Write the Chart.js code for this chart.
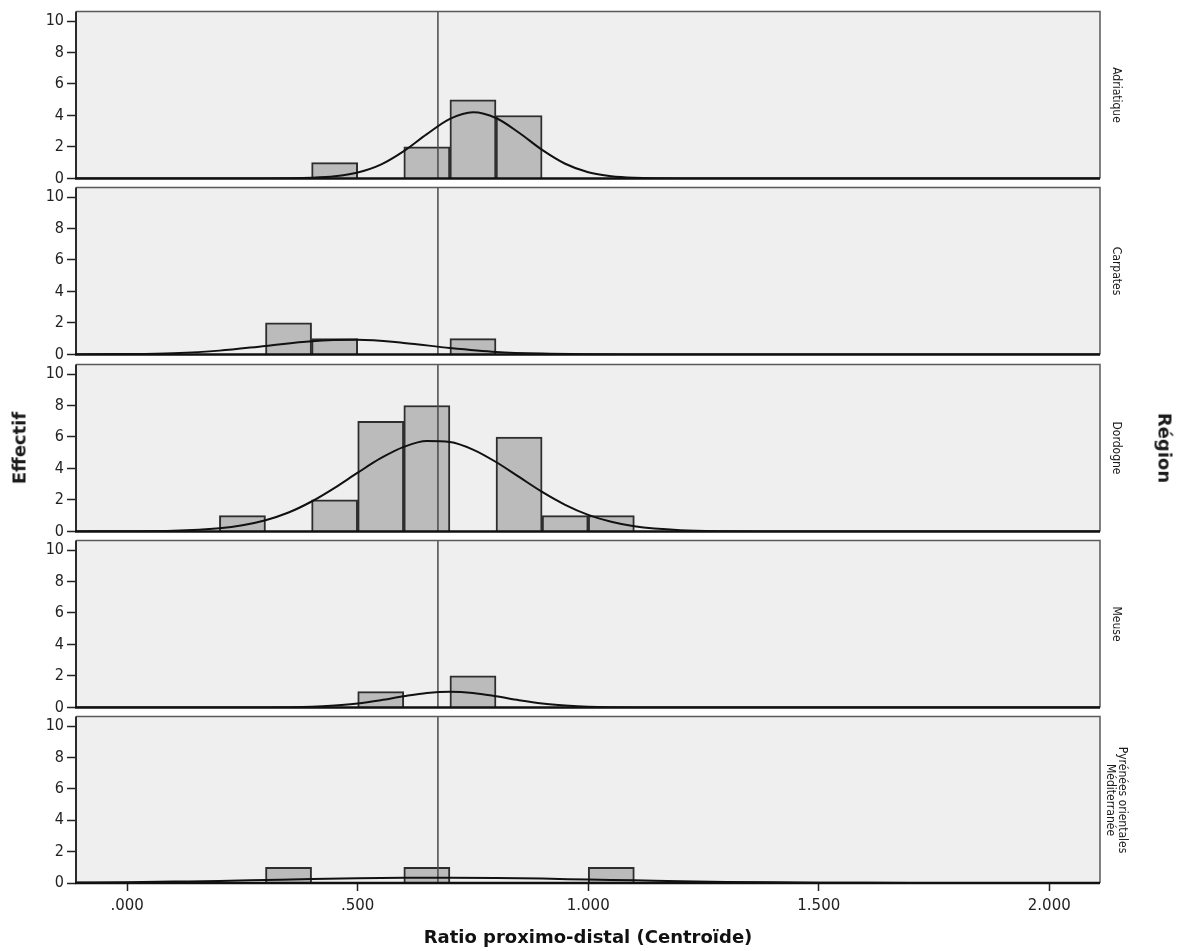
<!DOCTYPE html>
<html>
<head>
<meta charset="utf-8">
<script src="https://cdn.jsdelivr.net/npm/chart.js@4.4.0/dist/chart.umd.min.js"></script>
<style>
    body { margin: 0; background: #fff; }
    #wrap { position: relative; width: 1182px; height: 951px; overflow: hidden; background: #fff; }
    #wrap canvas { position: absolute; left: 0; }
    .rot {
        position: absolute;
        white-space: nowrap;
        text-align: center;
        color: #1a1a1a;
    }
    .strip {
        font-family: "DejaVu Sans Condensed", "Liberation Sans Narrow", "DejaVu Sans", sans-serif;
        font-stretch: condensed;
        font-size: 12px;
        line-height: 12px;
        transform: translate(-50%, -50%) rotate(90deg);
    }
    .axis-title {
        font-family: "DejaVu Sans", sans-serif;
        font-weight: bold;
        font-size: 18px;
    }
</style>
</head>
<body>
<div id="wrap">
    <canvas id="p0" width="1182" height="192"></canvas>
    <canvas id="p1" width="1182" height="192"></canvas>
    <canvas id="p2" width="1182" height="192"></canvas>
    <canvas id="p3" width="1182" height="192"></canvas>
    <canvas id="p4" width="1182" height="247"></canvas>

    <div class="rot axis-title" style="left:19px; top:448px; transform: translate(-50%, -50%) rotate(-90deg);">Effectif</div>
    <div class="rot axis-title" style="left:1165px; top:448px; transform: translate(-50%, -50%) rotate(90deg);">Région</div>
</div>

<script>
// ============================================
// Data
// ============================================

const X_MIN = -0.111;
const X_MAX = 2.11;
const Y_MAX = 10.6;
const REF_LINE_X = 0.674;

const X_TICKS = [0, 0.5, 1, 1.5, 2];
const X_TICK_LABELS = [".000", ".500", "1.000", "1.500", "2.000"];
const Y_TICKS = [0, 2, 4, 6, 8, 10];

const REGIONS = ["Adriatique", "Carpates", "Dordogne", "Meuse", "Pyrénées orientales\nMéditerranée"];

// histogram bins (width 0.1), given by their centres
const BIN_CENTERS = [0.25, 0.35, 0.45, 0.55, 0.65, 0.75, 0.85, 0.95, 1.05];

const COUNTS_ADRIATIQUE = [0, 0, 1, 0, 2, 5, 4, 0, 0];
const COUNTS_CARPATES   = [0, 2, 1, 0, 0, 1, 0, 0, 0];
const COUNTS_DORDOGNE   = [1, 0, 2, 7, 8, 0, 6, 1, 1];
const COUNTS_MEUSE      = [0, 0, 0, 1, 0, 2, 0, 0, 0];
const COUNTS_PYRENEES   = [0, 1, 0, 0, 1, 0, 0, 0, 1];

// normal curves, points
const CURVE_X_ADRIATIQUE = [-0.111, 0.30, 0.40, 0.45, 0.50, 0.55, 0.60, 0.65, 0.70, 0.75, 0.80, 0.85, 0.90, 0.95, 1.00, 1.05, 1.10, 1.20, 2.11];
const CURVE_Y_ADRIATIQUE = [0, 0, 0.04, 0.13, 0.37, 0.87, 1.73, 2.81, 3.78, 4.20, 3.84, 2.90, 1.81, 0.93, 0.39, 0.14, 0.04, 0, 0];

const CURVE_X_CARPATES = [-0.111, 0.0, 0.1, 0.2, 0.3, 0.4, 0.5, 0.6, 0.7, 0.8, 0.9, 1.0, 1.1, 2.11];
const CURVE_Y_CARPATES = [0, 0.02, 0.08, 0.24, 0.54, 0.84, 0.93, 0.73, 0.41, 0.16, 0.05, 0.01, 0, 0];

const CURVE_X_DORDOGNE = [-0.111, 0.0, 0.1, 0.2, 0.25, 0.3, 0.35, 0.4, 0.45, 0.5, 0.55, 0.6, 0.65, 0.7, 0.75, 0.8, 0.85, 0.9, 0.95, 1.0, 1.05, 1.1, 1.2, 1.3, 1.4, 2.11];
const CURVE_Y_DORDOGNE = [0, 0.01, 0.04, 0.20, 0.39, 0.71, 1.20, 1.90, 2.77, 3.73, 4.65, 5.37, 5.74, 5.68, 5.20, 4.41, 3.46, 2.51, 1.69, 1.05, 0.61, 0.32, 0.07, 0.01, 0, 0];

const CURVE_X_MEUSE = [-0.111, 0.3, 0.4, 0.45, 0.5, 0.55, 0.6, 0.65, 0.7, 0.75, 0.8, 0.85, 0.9, 0.95, 1.0, 1.1, 1.2, 2.11];
const CURVE_Y_MEUSE = [0, 0, 0.04, 0.12, 0.25, 0.46, 0.71, 0.92, 1.0, 0.92, 0.71, 0.46, 0.25, 0.12, 0.04, 0, 0, 0];

const CURVE_X_PYRENEES = [-0.111, 0.0, 0.1, 0.2, 0.3, 0.4, 0.5, 0.6, 0.7, 0.8, 0.9, 1.0, 1.1, 1.2, 1.3, 1.4, 1.5, 1.6, 1.7, 1.8, 2.0, 2.11];
const CURVE_Y_PYRENEES = [0.025, 0.05, 0.09, 0.13, 0.19, 0.25, 0.30, 0.33, 0.34, 0.32, 0.28, 0.22, 0.17, 0.11, 0.07, 0.04, 0.02, 0.01, 0.005, 0.002, 0, 0];

const PANELS = [
    { counts: COUNTS_ADRIATIQUE, cx: CURVE_X_ADRIATIQUE, cy: CURVE_Y_ADRIATIQUE },
    { counts: COUNTS_CARPATES,   cx: CURVE_X_CARPATES,   cy: CURVE_Y_CARPATES },
    { counts: COUNTS_DORDOGNE,   cx: CURVE_X_DORDOGNE,   cy: CURVE_Y_DORDOGNE },
    { counts: COUNTS_MEUSE,      cx: CURVE_X_MEUSE,      cy: CURVE_Y_MEUSE },
    { counts: COUNTS_PYRENEES,   cx: CURVE_X_PYRENEES,   cy: CURVE_Y_PYRENEES },
];

// ============================================
// Layout
// ============================================

const PANEL_TOPS = [11, 187, 364, 540, 716];
const PANEL_H = 168;
const PAD = 12;
const AREA_LEFT = 76;
const AREA_RIGHT = 1100;
const CANVAS_W = 1182;

const FONT_TICK_Y = "'DejaVu Sans Condensed', 'Liberation Sans Narrow', 'DejaVu Sans', sans-serif";
const FONT_TICK_X = "'DejaVu Sans', sans-serif";

// panel background + frame
const panelFrame = {
    id: "panelFrame",
    beforeDraw(chart) {
        const { ctx, chartArea: a } = chart;
        ctx.save();
        ctx.fillStyle = "#efefef";
        ctx.fillRect(a.left, a.top, a.right - a.left, a.bottom - a.top);
        ctx.restore();
    },
    afterDraw(chart) {
        const { ctx, chartArea: a } = chart;
        ctx.save();
        ctx.strokeStyle = "#5a5a5a";
        ctx.lineWidth = 1.5;
        ctx.beginPath();
        ctx.moveTo(a.left, a.top);
        ctx.lineTo(a.right, a.top);
        ctx.lineTo(a.right, a.bottom);
        ctx.stroke();
        ctx.strokeStyle = "#2a2a2a";
        ctx.lineWidth = 2;
        ctx.beginPath();
        ctx.moveTo(a.left, a.top);
        ctx.lineTo(a.left, a.bottom);
        ctx.stroke();
        ctx.strokeStyle = "#111";
        ctx.lineWidth = 2.5;
        ctx.beginPath();
        ctx.moveTo(a.left - 1, a.bottom);
        ctx.lineTo(a.right, a.bottom);
        ctx.stroke();
        ctx.restore();
    },
};

function makePanel(idx) {
    const isLast = idx === PANELS.length - 1;
    const p = PANELS[idx];
    const canvas = document.getElementById("p" + idx);
    canvas.style.top = (PANEL_TOPS[idx] - PAD) + "px";

    const bars = BIN_CENTERS.map((x, i) => ({ x: x, y: p.counts[i] > 0 ? p.counts[i] : null }));
    const curve = p.cx.map((x, i) => ({ x: x, y: p.cy[i] }));

    return new Chart(canvas.getContext("2d"), {
        type: "bar",
        data: {
            datasets: [
                {
                    type: "line",
                    data: curve,
                    borderColor: "#111",
                    borderWidth: 2,
                    pointRadius: 0,
                    cubicInterpolationMode: "monotone",
                    fill: false,
                    order: 1,
                },
                {
                    type: "line",
                    data: [{ x: REF_LINE_X, y: 0 }, { x: REF_LINE_X, y: Y_MAX }],
                    borderColor: "#4a4a4a",
                    borderWidth: 1.5,
                    pointRadius: 0,
                    fill: false,
                    order: 2,
                },
                {
                    type: "bar",
                    data: bars,
                    backgroundColor: "#bbbbbb",
                    borderColor: "#2e2e2e",
                    borderWidth: 2,
                    barPercentage: 1,
                    categoryPercentage: 1,
                    order: 3,
                },
            ],
        },
        options: {
            responsive: false,
            animation: false,
            events: [],
            layout: {
                padding: { top: PAD, bottom: isLast ? 0 : PAD, left: 0, right: CANVAS_W - AREA_RIGHT },
            },
            plugins: {
                legend: { display: false },
                tooltip: { enabled: false },
            },
            scales: {
                x: {
                    type: "linear",
                    display: isLast,
                    min: X_MIN,
                    max: X_MAX,
                    offset: false,
                    afterBuildTicks: (scale) => {
                        scale.ticks = X_TICKS.map((v) => ({ value: v }));
                    },
                    afterFit: (scale) => {
                        scale.height = isLast ? 68 : 0;
                    },
                    grid: {
                        offset: false,
                        drawOnChartArea: false,
                        drawTicks: true,
                        tickLength: 8,
                        tickColor: "#222",
                        tickWidth: 1.5,
                    },
                    border: { display: false },
                    ticks: {
                        padding: 6,
                        color: "#222",
                        font: { family: FONT_TICK_X, size: 15 },
                        maxRotation: 0,
                        autoSkip: false,
                        callback: (value) => {
                            const k = X_TICKS.indexOf(value);
                            return k >= 0 ? X_TICK_LABELS[k] : "";
                        },
                    },
                    title: {
                        display: true,
                        text: "Ratio proximo-distal (Centroïde)",
                        color: "#111",
                        font: { family: FONT_TICK_X, size: 18, weight: "bold" },
                        padding: { top: 0, bottom: 2 },
                    },
                },
                y: {
                    type: "linear",
                    min: 0,
                    max: Y_MAX,
                    afterBuildTicks: (scale) => {
                        scale.ticks = Y_TICKS.map((v) => ({ value: v }));
                    },
                    afterFit: (scale) => {
                        scale.width = AREA_LEFT;
                    },
                    grid: {
                        drawOnChartArea: false,
                        drawTicks: true,
                        tickLength: 9,
                        tickColor: "#222",
                        tickWidth: 1.5,
                    },
                    border: { display: false },
                    ticks: {
                        padding: 3,
                        autoSkip: false,
                        color: "#222",
                        font: { family: FONT_TICK_Y, size: 16 },
                    },
                },
            },
        },
        plugins: [panelFrame],
    });
}

function addStripLabels() {
    const wrap = document.getElementById("wrap");
    REGIONS.forEach((name, i) => {
        const div = document.createElement("div");
        div.className = "rot strip";
        div.style.left = "1117px";
        div.style.top = (PANEL_TOPS[i] + PANEL_H / 2) + "px";
        div.innerHTML = name.split("\n").join("<br>");
        wrap.appendChild(div);
    });
}

PANELS.forEach((_, i) => makePanel(i));
addStripLabels();
</script>
</body>
</html>
